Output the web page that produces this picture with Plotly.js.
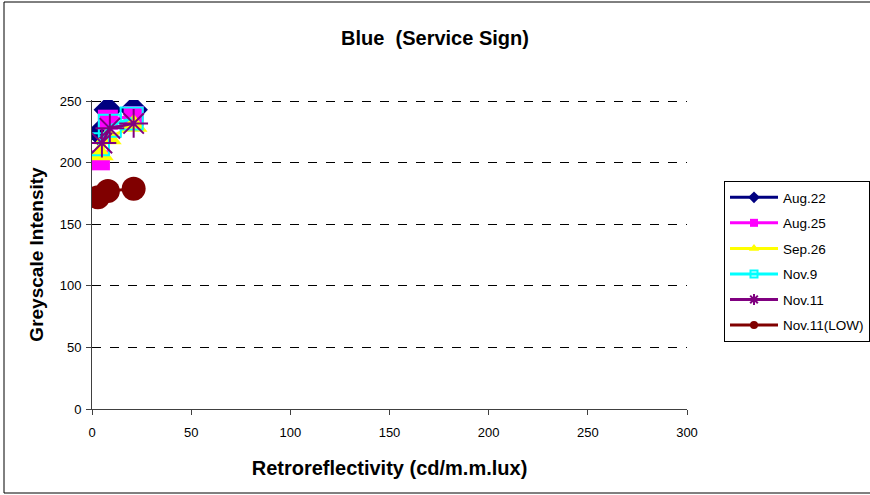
<!DOCTYPE html>
<html>
<head>
<meta charset="utf-8">
<script src="https://cdn.plot.ly/plotly-3.0.1.min.js"></script>
<style>html,body{margin:0;padding:0;background:#fff;}#chart{width:870px;height:495px;}</style>
</head>
<body>
<div id="chart"></div>
<script>
// Data
const seriesNames = ["Aug.22", "Aug.25", "Sep.26", "Nov.9", "Nov.11", "Nov.11(LOW)"];
const aug22X = [4, 8, 21];   const aug22Y = [224, 243, 243];
const aug25X = [4, 8, 21];   const aug25Y = [202, 235, 238];
const sep26X = [4, 8, 21];   const sep26Y = [207, 220, 230];
const nov9X  = [3, 9, 20];   const nov9Y  = [215, 230, 236];
const nov11X = [5, 9, 21];   const nov11Y = [216, 228, 232];
const nov11LowX = [3, 8, 21]; const nov11LowY = [172, 177, 179];

const xTicks = [0, 50, 100, 150, 200, 250, 300];
const yTicks = [0, 50, 100, 150, 200, 250];

const styles = [
  {color: "#000080", symbol: "diamond", size: 22, lsym: "diamond", lsize: 9},
  {color: "#FF00FF", symbol: "square", size: 20, lsym: "square", lsize: 8},
  {color: "#FFFF00", symbol: "triangle-up", size: 24, lsym: "triangle-up", lsize: 9},
  {color: "#00FFFF", symbol: "square-open", size: 22, lsym: "square-open", lsize: 7},
  {color: "#800080", symbol: "asterisk-open", size: 24, lsym: "asterisk-open", lsize: 9},
  {color: "#800000", symbol: "circle", size: 24, lsym: "circle", lsize: 8}
];
const xs = [aug22X, aug25X, sep26X, nov9X, nov11X, nov11LowX];
const ys = [aug22Y, aug25Y, sep26Y, nov9Y, nov11Y, nov11LowY];

const traces = seriesNames.map((n, i) => ({
  x: xs[i], y: ys[i], name: n, type: "scatter", mode: "lines+markers",
  showlegend: false, legendgroup: "g" + i,
  line: {color: styles[i].color, width: 3},
  marker: {color: styles[i].color, symbol: styles[i].symbol, size: styles[i].size,
           line: {color: styles[i].color, width: (styles[i].symbol.indexOf("open") >= 0) ? 2 : 0}}
}));
// legend-only entries (no data) so legend symbols stay small like the reference
const legendEntries = seriesNames.map((n, i) => ({
  x: [null], y: [null], name: n, type: "scatter", mode: "lines+markers",
  showlegend: true, legendgroup: "g" + i, hoverinfo: "skip",
  line: {color: styles[i].color, width: 3},
  marker: {color: styles[i].color, symbol: styles[i].lsym, size: styles[i].lsize,
           line: {color: styles[i].color, width: (styles[i].lsym.indexOf("open") >= 0) ? 2 : 0}}
}));

const L = 92, R = 687, B = 409;
const yMax = 251;
const pxPerY = 308 / 250;
const T = Math.round(B - yMax * pxPerY);
const pw = R - L, ph = B - T;
const px = v => (v - L) / pw;
const py = v => (B - v) / ph;

const layout = {
  width: 870, height: 495,
  margin: {l: L, r: 870 - R, t: T, b: 495 - B, pad: 0, autoexpand: false},
  paper_bgcolor: "#fff", plot_bgcolor: "#fff",
  font: {family: "Liberation Sans, Arial, sans-serif", color: "#000", size: 13},
  title: {text: "<b>Blue  (Service Sign)</b>", font: {size: 20, family: "Liberation Sans, Arial, sans-serif", color: "#000"},
          x: 0.5, xref: "container", xanchor: "center", y: 1 - 38/495, yref: "container", yanchor: "middle"},
  showlegend: true,
  legend: {xref: "container", yref: "container", x: 724/870, y: 1 - 181/495, xanchor: "left", yanchor: "top",
           bordercolor: "#000", borderwidth: 1, bgcolor: "#fff",
           font: {size: 13.5, family: "Liberation Sans, Arial, sans-serif"},
           itemsizing: "trace", itemwidth: 48, tracegroupgap: 5, traceorder: "grouped"},
  xaxis: {range: [0, 300], tickvals: xTicks, ticktext: xTicks.map(String),
          showgrid: false, zeroline: false, showline: true, linecolor: "#404040", linewidth: 1,
          ticks: "outside", ticklen: 5, tickcolor: "#404040", ticklabelstandoff: 6,
          tickfont: {size: 13}, fixedrange: true,
          title: {text: "<b>Retroreflectivity (cd/m.m.lux)</b>", font: {size: 20}, standoff: 22}},
  yaxis: {range: [0, yMax], tickvals: yTicks, ticktext: yTicks.map(String),
          showgrid: true, gridcolor: "#000", griddash: "dash", gridwidth: 1,
          zeroline: false, showline: true, linecolor: "#404040", linewidth: 1,
          ticks: "outside", ticklen: 5, tickcolor: "#404040", ticklabelstandoff: 2,
          tickfont: {size: 13}, fixedrange: true,
          title: {text: "<b>Greyscale Intensity</b>", font: {size: 19}, standoff: 11}},
  shapes: [
    {type: "rect", xref: "paper", yref: "paper", x0: px(4), x1: px(880), y0: py(493), y1: py(2),
     line: {color: "#000", width: 1}, fillcolor: "rgba(0,0,0,0)", layer: "below"}
  ]
};

Plotly.newPlot("chart", traces.concat(legendEntries), layout, {displayModeBar: false, staticPlot: true});
</script>
</body>
</html>
